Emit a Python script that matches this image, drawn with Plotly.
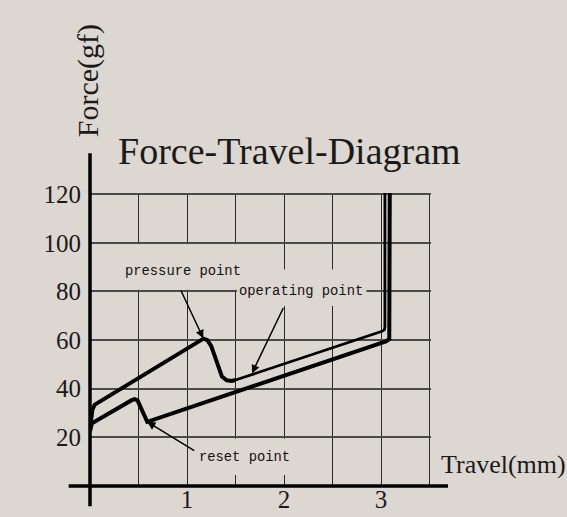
import plotly.graph_objects as go

# ---------------- data ----------------
# pressing stroke: rise to the pressure point, snap down to the operating point
press_x = [0.0, 0.01, 0.025, 0.05, 1.17, 1.21, 1.25, 1.36, 1.41, 1.46, 1.50]
press_y = [23.5, 28.0, 31.5, 33.5, 60.6, 60.0, 57.5, 45.0, 43.5, 43.2, 43.6]
# after the operating point up to the end of travel
oper_x = [1.50, 3.01, 3.035, 3.04, 3.04]
oper_y = [43.6, 63.6, 64.3, 65.5, 120.6]
# return stroke
release_x = [3.09, 3.09, 3.085, 3.05, 0.59, 0.49, 0.46, 0.43, 0.02, 0.0]
release_y = [120.6, 61.5, 60.4, 59.5, 26.4, 35.2, 35.7, 35.3, 25.8, 22.5]

y_ticks = [20, 40, 60, 80, 100, 120]
x_grid = [0.5, 1.0, 1.5, 2.0, 2.5, 3.0, 3.5]
x_grid_text = ["", "1", "", "2", "", "3", ""]

labels = ["pressure point", "operating point", "reset point"]
label_x = [0.342, 1.516, 1.104]
label_y = [88.3, 80.1, 11.9]
tip_x = [1.167, 1.67, 0.589]
tip_y = [60.8, 46.4, 26.4]
tail_x = [0.93, 2.0, 1.09]
tail_y = [81.0, 73.8, 14.2]

title = "Force-Travel-Diagram"
x_title = "Travel(mm)"
y_title = "Force(gf)"

# ---------------- style ----------------
BG = "#DDD7D1"
X_RANGE = [0, 3.515]
Y_RANGE = [0, 120.5]
SERIF = "Liberation Serif"
MONO = "Liberation Mono"


def px(x):
    return (x - X_RANGE[0]) / (X_RANGE[1] - X_RANGE[0])


def py(y):
    return (y - Y_RANGE[0]) / (Y_RANGE[1] - Y_RANGE[0])


fig = go.Figure()
fig.add_trace(go.Scatter(x=press_x, y=press_y, mode="lines",
                         line=dict(color="black", width=4), hoverinfo="skip"))
fig.add_trace(go.Scatter(x=oper_x, y=oper_y, mode="lines",
                         line=dict(color="black", width=2.8), hoverinfo="skip"))
fig.add_trace(go.Scatter(x=release_x, y=release_y, mode="lines",
                         line=dict(color="black", width=4), hoverinfo="skip"))

# masks behind the labels (hide the grid, stay below the curves)
masks = [
    (0.30, 1.53, 80.7, 99.4),
    (1.515, 2.85, 74.0, 89.0),
    (1.05, 2.08, 4.5, 19.4),
]
for x0, x1, y0, y1 in masks:
    fig.add_shape(type="rect", xref="x", yref="y", x0=x0, x1=x1, y0=y0, y1=y1,
                  fillcolor=BG, line=dict(width=0), layer="between")

# axis lines extending beyond the grid
fig.add_shape(type="line", xref="paper", yref="paper",
              x0=px(-0.22), x1=px(3.69), y0=py(0), y1=py(0),
              line=dict(color="black", width=3.5), layer="above")
fig.add_shape(type="line", xref="paper", yref="paper",
              x0=px(0), x1=px(0), y0=py(-8.3), y1=py(136.8),
              line=dict(color="black", width=3.5), layer="above")

annotations = []
for t, lx, ly in zip(labels, label_x, label_y):
    annotations.append(dict(x=lx, y=ly, xref="x", yref="y", text=t, showarrow=False,
                            xanchor="left", yanchor="middle",
                            font=dict(family=MONO, size=13.8, color="#111111")))
for hx, hy, sx, sy in zip(tip_x, tip_y, tail_x, tail_y):
    annotations.append(dict(x=hx, y=hy, xref="x", yref="y", ax=sx, ay=sy,
                            axref="x", ayref="y", text="", showarrow=True,
                            arrowhead=2, arrowsize=1.1, arrowwidth=1.5,
                            arrowcolor="black", standoff=0, startstandoff=0))
annotations.append(dict(x=px(2.059), y=py(137.8), xref="paper", yref="paper", text=title,
                        showarrow=False, xanchor="center", yanchor="middle",
                        font=dict(family=SERIF, size=38, color="#1a1a1a")))
annotations.append(dict(x=px(3.6), y=py(9.0), xref="paper", yref="paper", text=x_title,
                        showarrow=False, xanchor="left", yanchor="middle",
                        font=dict(family=SERIF, size=26, color="#1a1a1a")))
annotations.append(dict(x=px(-0.02), y=py(166.5), xref="paper", yref="paper", text=y_title,
                        showarrow=False, xanchor="center", yanchor="middle",
                        textangle=-90,
                        font=dict(family=SERIF, size=30, color="#1a1a1a")))

fig.update_layout(
    width=567, height=517,
    margin=dict(l=90, r=136, t=193, b=31, pad=0),
    paper_bgcolor=BG, plot_bgcolor=BG,
    showlegend=False,
    annotations=annotations,
    xaxis=dict(range=X_RANGE, tickmode="array", tickvals=x_grid, ticktext=x_grid_text,
               showgrid=True, gridcolor="#2a2a2a", gridwidth=1.2,
               zeroline=False, showline=False, ticks="", automargin=False,
               ticklabelstandoff=-4,
               tickfont=dict(family=SERIF, size=25, color="#1a1a1a"), fixedrange=True),
    yaxis=dict(range=Y_RANGE, tickmode="array", tickvals=y_ticks,
               showgrid=True, gridcolor="#4a4a4a", gridwidth=1.5,
               zeroline=False, showline=False, ticks="", automargin=False,
               ticklabelstandoff=8,
               tickfont=dict(family=SERIF, size=25, color="#1a1a1a"), fixedrange=True),
)

fig.write_html("out.html", config={"displayModeBar": False},
               post_script="document.body.style.margin='0';document.body.style.overflow='hidden';")
